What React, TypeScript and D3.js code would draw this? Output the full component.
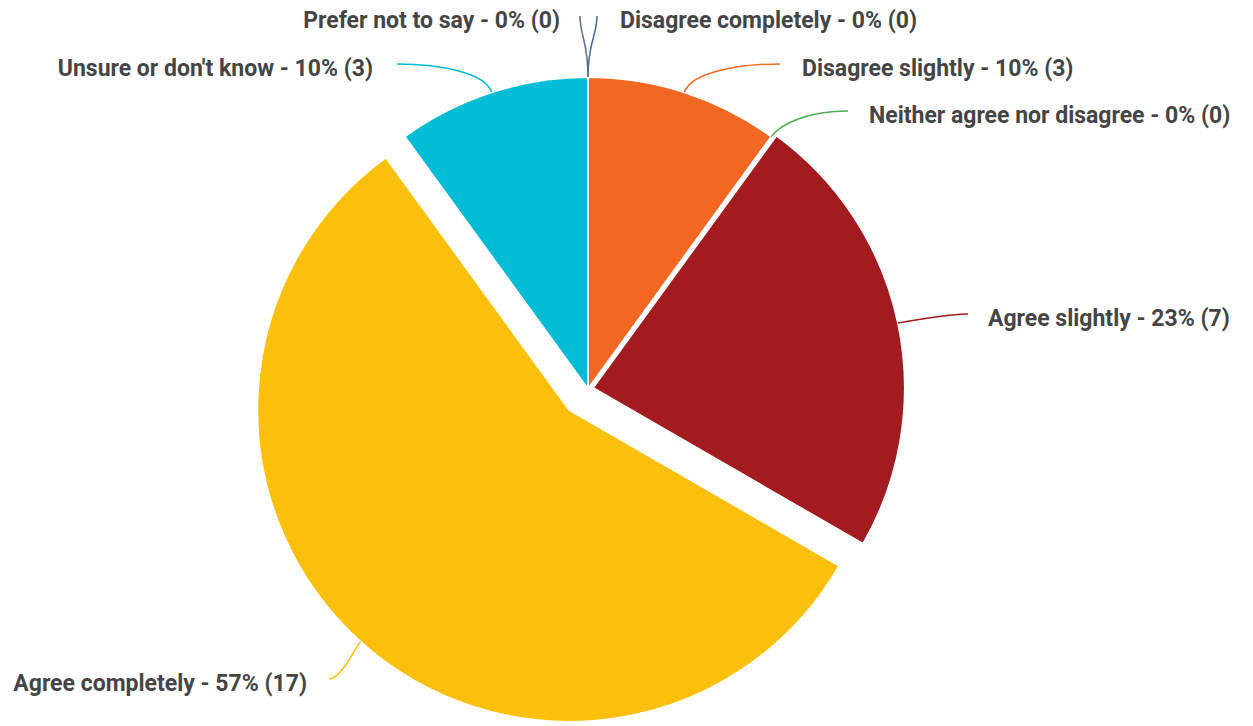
import React from "react";
import * as d3 from "d3";

const categories = [
  "Disagree completely",
  "Disagree slightly",
  "Neither agree nor disagree",
  "Agree slightly",
  "Agree completely",
  "Unsure or don't know",
  "Prefer not to say",
];
const counts = [0, 3, 0, 7, 17, 3, 0];
const colors = ["#3f6e96", "#f26722", "#4caf50", "#a21b1f", "#fcc00a", "#00bcd4", "#5f7285"];
const explode = [0, 0, 0, 5, 28, 0, 0];

// label layout: label anchor (text center y), side
const labelLayout = [
  { x: 620, y: 20, side: 1, l1: 36, c2dx: 0, c2dy: 20, gap: 23 },
  { x: 802, y: 68, side: 1, l1: 20, c2dx: 45, c2dy: 0, gap: 22 },
  { x: 869, y: 115, side: 1, l1: 16, c2dx: 40, c2dy: 0, gap: 21 },
  { x: 988, y: 318, side: 1, l1: 8, c2dx: 20, c2dy: 0, gap: 20 },
  { x: 307, y: 683, side: -1, l1: 8, c2dx: 12, c2dy: 0, gap: 22 },
  { x: 373, y: 68, side: -1, l1: 20, c2dx: 45, c2dy: 0, gap: 24 },
  { x: 560, y: 20, side: -1, l1: 36, c2dx: 0, c2dy: 20, gap: 20 },
];

const W = 1253;
const H = 726;
const cx = 588;
const cy = 389;
const R = 312;

export default function App() {
  const total = d3.sum(counts);
  const pie = d3.pie<number>().sort(null).value((d) => d)(counts);
  const arc = d3.arc<d3.PieArcDatum<number>>().innerRadius(0).outerRadius(R);

  return (
    <svg width={W} height={H} style={{ position: "absolute", left: 0, top: 0, background: "#fff" }}>
      <g transform={`translate(${cx},${cy})`}>
        {pie.map((p, i) => {
          if (p.value === 0) return null;
          const mid = (p.startAngle + p.endAngle) / 2;
          const ox = Math.sin(mid) * explode[i];
          const oy = -Math.cos(mid) * explode[i];
          return (
            <path
              key={i}
              d={arc(p) || ""}
              transform={`translate(${ox},${oy})`}
              fill={colors[i]}
              stroke="#fff"
              strokeWidth={2}
              strokeLinejoin="round"
            />
          );
        })}
      </g>
      {pie.map((p, i) => {
        const mid = (p.startAngle + p.endAngle) / 2;
        const ux = Math.sin(mid);
        const uy = -Math.cos(mid);
        const sx = cx + ux * (R + explode[i]);
        const sy = cy + uy * (R + explode[i]);
        const L = labelLayout[i];
        const ex = L.x - L.side * L.gap;
        const ey = L.y - 4;
        const c1x = sx + ux * L.l1;
        const c1y = sy + uy * L.l1;
        const c2x = ex - L.side * L.c2dx;
        const c2y = ey + L.c2dy;
        const pct = Math.round((counts[i] / total) * 100);
        return (
          <g key={"l" + i}>
            <path
              d={`M${sx},${sy} C${c1x},${c1y} ${c2x},${c2y} ${ex},${ey}`}
              fill="none"
              stroke={colors[i]}
              strokeWidth={1.5}
            />
            <text
              x={L.x}
              y={L.y}
              dy="0.35em"
              textAnchor={L.side > 0 ? "start" : "end"}
              fontFamily="Roboto, sans-serif"
              fontWeight={700}
              fontSize={23}
              fill="#454545"
            >
              {`${categories[i]} - ${pct}% (${counts[i]})`}
            </text>
          </g>
        );
      })}
    </svg>
  );
}
